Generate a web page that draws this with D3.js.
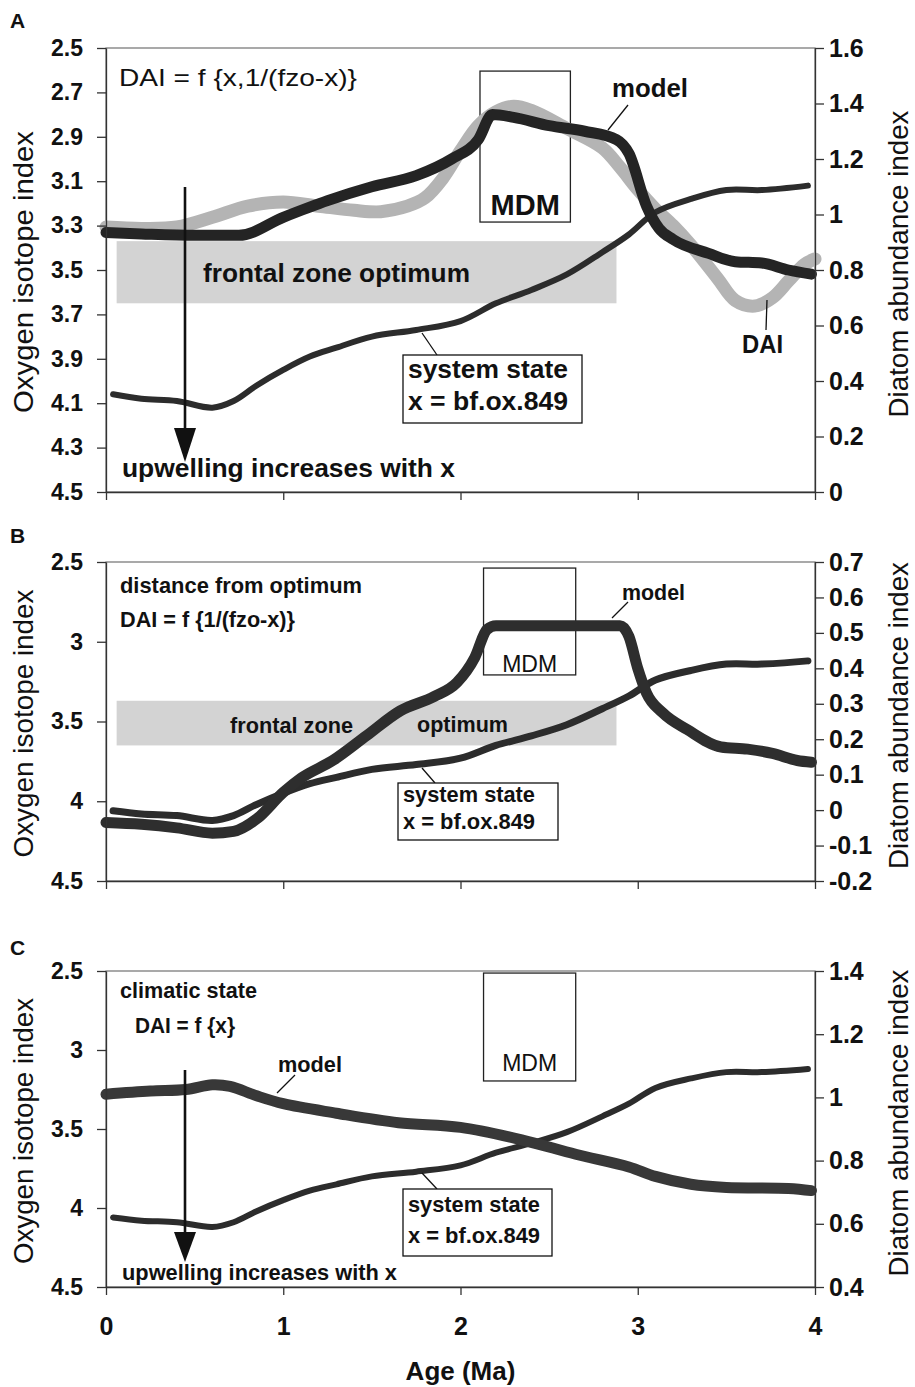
<!DOCTYPE html>
<html>
<head>
<meta charset="utf-8">
<script src="https://cdn.jsdelivr.net/npm/d3@7"></script>
<style>
  body { margin: 0; background: #fff; }
  svg { display: block; }
  text { font-family: "Liberation Sans", Arial, Helvetica, sans-serif; fill: #111; }
</style>
</head>
<body>
<svg id="fig" width="915" height="1387"></svg>
<script>
// ---------- data ----------
const ageTicks = [0, 1, 2, 3, 4];

// System state x = benthic foraminiferal oxygen isotope record (ODP 849), left axis
const stateAge   = [0.04, 0.2, 0.4, 0.6, 0.72, 0.85, 1.0, 1.15, 1.3, 1.5, 1.75, 2.0, 2.2, 2.4, 2.6, 2.8, 2.95, 3.1, 3.3, 3.5, 3.7, 3.96];
const stateValue = [4.06, 4.08, 4.09, 4.12, 4.09, 4.02, 3.95, 3.89, 3.85, 3.80, 3.77, 3.73, 3.65, 3.59, 3.52, 3.42, 3.34, 3.24, 3.18, 3.14, 3.14, 3.12];

// Panel A: DAI = f{x, 1/(fzo-x)}, right axis
const modelAAge   = [0, 0.2, 0.5, 0.75, 1.0, 1.25, 1.5, 1.75, 1.95, 2.1, 2.18, 2.3, 2.5, 2.7, 2.88, 2.95, 3.05, 3.12, 3.2, 3.4, 3.55, 3.7, 3.85, 3.98];
const modelAValue = [0.935, 0.93, 0.925, 0.925, 0.99, 1.05, 1.10, 1.14, 1.20, 1.27, 1.36, 1.35, 1.32, 1.30, 1.27, 1.22, 1.03, 0.95, 0.91, 0.86, 0.83, 0.825, 0.80, 0.785];
const daiAge   = [0, 0.2, 0.4, 0.6, 0.8, 1.0, 1.2, 1.4, 1.55, 1.7, 1.8, 1.9, 2.0, 2.1, 2.2, 2.3, 2.4, 2.6, 2.8, 2.9, 3.0, 3.1, 3.2, 3.3, 3.45, 3.55, 3.66, 3.76, 3.85, 3.94, 4.0];
const daiValue = [0.955, 0.95, 0.955, 0.99, 1.03, 1.045, 1.03, 1.015, 1.01, 1.03, 1.06, 1.13, 1.23, 1.32, 1.37, 1.39, 1.375, 1.31, 1.24, 1.17, 1.09, 1.02, 0.96, 0.89, 0.77, 0.69, 0.67, 0.70, 0.76, 0.82, 0.84];

// Panel B: DAI = f{1/(fzo-x)}, right axis
const modelBAge   = [0, 0.2, 0.4, 0.6, 0.72, 0.85, 1.0, 1.1, 1.28, 1.47, 1.66, 1.85, 1.98, 2.08, 2.15, 2.2, 2.5, 2.9, 2.95, 3.0, 3.05, 3.14, 3.28, 3.47, 3.62, 3.76, 3.9, 3.98];
const modelBValue = [-0.035, -0.04, -0.05, -0.065, -0.06, -0.025, 0.05, 0.09, 0.14, 0.21, 0.28, 0.32, 0.36, 0.43, 0.51, 0.52, 0.52, 0.52, 0.49, 0.40, 0.33, 0.275, 0.227, 0.178, 0.172, 0.16, 0.14, 0.135];

// Panel C: DAI = f{x}, right axis
const modelCAge   = [0, 0.25, 0.45, 0.6, 0.7, 0.85, 1.0, 1.3, 1.65, 2.0, 2.35, 2.65, 2.95, 3.1, 3.3, 3.5, 3.85, 3.98];
const modelCValue = [1.01, 1.02, 1.025, 1.04, 1.035, 1.005, 0.98, 0.95, 0.92, 0.905, 0.865, 0.82, 0.78, 0.75, 0.725, 0.715, 0.712, 0.705];

// Frontal zone optimum band (oxygen isotope units) and its age span (Ma)
const fzoBand = [3.37, 3.65];
const fzoAge  = [0.06, 2.88];

// Axis tick values
const leftTicksA  = [2.5, 2.7, 2.9, 3.1, 3.3, 3.5, 3.7, 3.9, 4.1, 4.3, 4.5];
const rightTicksA = [0, 0.2, 0.4, 0.6, 0.8, 1, 1.2, 1.4, 1.6];
const leftTicksBC = [2.5, 3, 3.5, 4, 4.5];
const rightTicksB = [-0.2, -0.1, 0, 0.1, 0.2, 0.3, 0.4, 0.5, 0.6, 0.7];
const rightTicksC = [0.4, 0.6, 0.8, 1, 1.2, 1.4];

// ---------- layout ----------
const svg = d3.select("#fig");
const plotLeft = 106, plotRight = 815;
const x = d3.scaleLinear().domain([0, 4]).range([plotLeft, plotRight]);
const fmt = d => String(+d.toFixed(2));
const zip = (a, b) => a.map((v, i) => [v, b[i]]);
const smooth = d3.curveCatmullRom.alpha(0.5);
const cornered = d3.curveMonotoneX;

const panels = [
  { key: "A", top: 48, bottom: 492, rightDomain: [0, 1.6], leftTicks: leftTicksA, rightTicks: rightTicksA,
    leftFmt: d3.format(".1f"), letterY: 28, leftTitleLen: 282 },
  { key: "B", top: 562, bottom: 881, rightDomain: [-0.2, 0.7], leftTicks: leftTicksBC, rightTicks: rightTicksB,
    leftFmt: fmt, letterY: 543, leftTitleLen: 268 },
  { key: "C", top: 971, bottom: 1287, rightDomain: [0.4, 1.4], leftTicks: leftTicksBC, rightTicks: rightTicksC,
    leftFmt: fmt, letterY: 955, leftTitleLen: 266 }
];

panels.forEach(p => {
  p.yL = d3.scaleLinear().domain([2.5, 4.5]).range([p.top, p.bottom]);
  p.yR = d3.scaleLinear().domain(p.rightDomain).range([p.bottom, p.top]);
  p.g = svg.append("g");
  p.back = p.g.append("g");
  p.lines = p.g.append("g");
  p.front = p.g.append("g");
});

function frame(p) {
  p.back.append("rect")
    .attr("x", plotLeft).attr("y", p.top)
    .attr("width", plotRight - plotLeft).attr("height", p.bottom - p.top)
    .attr("fill", "none").attr("stroke", "#555").attr("stroke-width", 1);
}

function axes(p, showAgeLabels) {
  const left = p.g.append("g").attr("transform", `translate(${plotLeft},0)`)
    .call(d3.axisLeft(p.yL).tickValues(p.leftTicks).tickFormat(p.leftFmt).tickSize(9).tickSizeOuter(0).tickPadding(14));
  const right = p.g.append("g").attr("transform", `translate(${plotRight},0)`)
    .call(d3.axisRight(p.yR).tickValues(p.rightTicks).tickFormat(fmt).tickSize(9).tickSizeOuter(0).tickPadding(5));
  const bottom = p.g.append("g").attr("transform", `translate(0,${p.bottom})`)
    .call(d3.axisBottom(x).tickValues(ageTicks).tickFormat(showAgeLabels ? d3.format("d") : () => "")
      .tickSize(8).tickSizeOuter(0).tickPadding(22));
  [left, right, bottom].forEach(a => {
    a.selectAll(".domain").attr("stroke", "#333").attr("stroke-width", 1.3);
    a.selectAll(".tick line").attr("stroke", "#333").attr("stroke-width", 1.3);
    a.selectAll("text").attr("fill", "#111").attr("font-weight", "bold")
      .attr("font-family", '"Liberation Sans", Arial, sans-serif');
  });
  left.selectAll("text").attr("font-size", 23);
  right.selectAll("text").attr("font-size", 25);
  bottom.selectAll("text").attr("font-size", 25);

  // axis titles
  p.g.append("text")
    .attr("transform", `translate(33,${(p.top + p.bottom) / 2 + 2}) rotate(-90)`)
    .attr("text-anchor", "middle").attr("font-size", 28)
    .attr("textLength", p.leftTitleLen).attr("lengthAdjust", "spacingAndGlyphs")
    .text("Oxygen isotope index");
  p.g.append("text")
    .attr("transform", `translate(908,${(p.top + p.bottom) / 2 - 6}) rotate(-90)`)
    .attr("text-anchor", "middle").attr("font-size", 27)
    .attr("textLength", 307).attr("lengthAdjust", "spacingAndGlyphs")
    .text("Diatom abundance index");
  // panel letter
  p.g.append("text").attr("x", 10).attr("y", p.letterY)
    .attr("font-size", 21).attr("font-weight", "bold").text(p.key);
}

function band(p) {
  p.back.append("rect")
    .attr("x", x(fzoAge[0])).attr("y", p.yL(fzoBand[0]))
    .attr("width", x(fzoAge[1]) - x(fzoAge[0]))
    .attr("height", p.yL(fzoBand[1]) - p.yL(fzoBand[0]))
    .attr("fill", "#d3d3d3");
}

function mdmBox(p, a0, a1, v0, v1, fontSize, weight, baselineY) {
  p.back.append("rect")
    .attr("x", x(a0)).attr("y", p.yL(v0))
    .attr("width", x(a1) - x(a0)).attr("height", p.yL(v1) - p.yL(v0))
    .attr("fill", "none").attr("stroke", "#222").attr("stroke-width", 1.3);
  p.front.append("text")
    .attr("x", (x(a0) + x(a1)) / 2).attr("y", baselineY)
    .attr("text-anchor", "middle").attr("font-size", fontSize).attr("font-weight", weight)
    .text("MDM");
}

function series(p, ages, vals, y, color, width, curve) {
  const line = d3.line().x(d => x(d[0])).y(d => y(d[1])).curve(curve || smooth);
  p.lines.append("path").datum(zip(ages, vals))
    .attr("d", line).attr("fill", "none")
    .attr("stroke", color).attr("stroke-width", width)
    .attr("stroke-linejoin", "round").attr("stroke-linecap", "round");
}

function label(p, str, xx, yy, size, weight, len) {
  const t = p.front.append("text").attr("x", xx).attr("y", yy)
    .attr("font-size", size).attr("font-weight", weight).text(str);
  if (len) t.attr("textLength", len).attr("lengthAdjust", "spacingAndGlyphs");
  return t;
}

function leader(p, x1, y1, x2, y2) {
  p.front.append("line").attr("x1", x1).attr("y1", y1).attr("x2", x2).attr("y2", y2)
    .attr("stroke", "#111").attr("stroke-width", 1.3);
}

function stateBox(p, bx, by, bw, bh, size, len) {
  p.front.append("rect").attr("x", bx).attr("y", by).attr("width", bw).attr("height", bh)
    .attr("fill", "#fff").attr("stroke", "#111").attr("stroke-width", 1.3);
  label(p, "system state", bx + 5, by + bh * 0.34, size, "bold", len);
  label(p, "x = bf.ox.849", bx + 5, by + bh * 0.81, size, "bold", len);
}

function arrow(p, ax, yTop, yTip, headLen, headHalf) {
  p.front.append("line").attr("x1", ax).attr("y1", yTop).attr("x2", ax).attr("y2", yTip - headLen + 2)
    .attr("stroke", "#111").attr("stroke-width", 2.6);
  p.front.append("path")
    .attr("d", `M${ax - headHalf},${yTip - headLen} L${ax + headHalf},${yTip - headLen} L${ax},${yTip} Z`)
    .attr("fill", "#111");
}

// ---------- panel A ----------
{
  const p = panels[0];
  frame(p);
  band(p);
  mdmBox(p, 2.11, 2.62, 2.604, 3.284, 29, "bold", 215);
  series(p, daiAge, daiValue, p.yR, "#b4b4b4", 13);
  series(p, stateAge, stateValue, p.yL, "#2c2c2c", 6);
  series(p, modelAAge, modelAValue, p.yR, "#242424", 11, cornered);
  axes(p, false);
  label(p, "DAI = f {x,1/(fzo-x)}", 119, 86, 24, "normal", 238);
  label(p, "frontal zone optimum", 203, 282, 26, "bold", 267);
  label(p, "upwelling increases with x", 122, 477, 26, "bold", 333);
  arrow(p, 185, 187, 462, 34, 11);
  label(p, "model", 612, 97, 26, "bold", 76);
  leader(p, 628, 105, 608, 130);
  label(p, "DAI", 742, 353, 26, "bold", 41);
  leader(p, 767, 300, 766, 330);
  leader(p, 422, 333, 437, 355);
  stateBox(p, 403, 355, 179, 68, 26, 160);
}

// ---------- panel B ----------
{
  const p = panels[1];
  frame(p);
  band(p);
  mdmBox(p, 2.13, 2.65, 2.538, 3.208, 23, "normal", 672);
  series(p, stateAge, stateValue, p.yL, "#2c2c2c", 7);
  series(p, modelBAge, modelBValue, p.yR, "#2e2e2e", 11, cornered);
  axes(p, false);
  label(p, "distance from optimum", 120, 593, 22, "bold", 242);
  label(p, "DAI = f {1/(fzo-x)}", 120, 627, 22, "bold", 175);
  label(p, "frontal zone", 230, 733, 22, "bold", 123);
  label(p, "optimum", 417, 732, 22, "bold", 91);
  label(p, "model", 622, 600, 22, "bold", 63);
  leader(p, 628, 602, 612, 618);
  leader(p, 422, 768, 435, 783);
  stateBox(p, 398, 783, 160, 57, 22, 132);
}

// ---------- panel C ----------
{
  const p = panels[2];
  frame(p);
  mdmBox(p, 2.13, 2.65, 2.513, 3.196, 23, "normal", 1071);
  series(p, stateAge, stateValue, p.yL, "#2c2c2c", 6);
  series(p, modelCAge, modelCValue, p.yR, "#383838", 11);
  axes(p, true);
  label(p, "climatic state", 120, 998, 22, "bold", 137);
  label(p, "DAI = f {x}", 135, 1033, 22, "bold", 100);
  label(p, "model", 278, 1072, 22, "bold", 64);
  leader(p, 295, 1075, 277, 1093);
  label(p, "upwelling increases with x", 122, 1280, 22, "bold", 275);
  arrow(p, 185, 1070, 1262, 30, 11);
  leader(p, 422, 1173, 437, 1189);
  stateBox(p, 403, 1189, 149, 67, 22, 132);

  svg.append("text").attr("x", (plotLeft + plotRight) / 2).attr("y", 1380)
    .attr("text-anchor", "middle").attr("font-size", 26).attr("font-weight", "bold")
    .text("Age (Ma)");
}
</script>
</body>
</html>
